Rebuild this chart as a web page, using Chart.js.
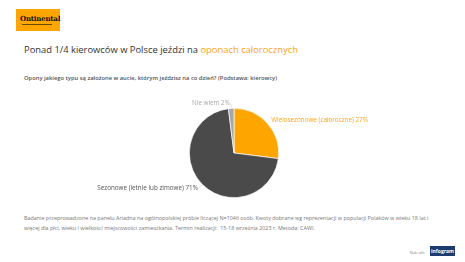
<!DOCTYPE html>
<html>
<head>
<meta charset="utf-8">
<script src="https://cdn.jsdelivr.net/npm/chart.js@4"></script>
<style>
  body { margin: 0; width: 465px; height: 262px; background: #fff; position: relative; overflow: hidden; font-family: "Open Sans", sans-serif; }
  .logo { position: absolute; left: 16px; top: 9px; width: 44px; height: 22px; background: #ffa500; }
  .logo span { position: absolute; left: 4px; top: 5px; font: bold 7px "DejaVu Serif", serif; color: #111; letter-spacing: -0.2px; }
  .logo i { position: absolute; left: 6px; top: 15px; width: 30px; height: 1px; background: #6a4a00; }
  .title { position: absolute; left: 24px; top: 43px; font-size: 9.4px; color: #333; white-space: nowrap; }
  .title b { font-weight: normal; color: #ffa31a; }
  .sub { position: absolute; left: 24px; top: 74px; font-size: 5.8px; font-weight: 600; color: #555; white-space: nowrap; }
  .foot { position: absolute; left: 24px; top: 214px; font-size: 5.4px; line-height: 9.5px; color: #777; white-space: nowrap; }
  .made { position: absolute; left: 410px; top: 251px; font-size: 3px; color: #888; }
  .ig { position: absolute; left: 430px; top: 246px; width: 25px; height: 10px; background: #1c3b6e; color: #fff; font: bold 5px "Open Sans", sans-serif; text-align: center; line-height: 10px; }
  #wrap { position: absolute; left: 0; top: 85px; width: 465px; height: 125px; }
</style>
</head>
<body>
<div class="logo"><span>Ontinental</span><i></i></div>
<div class="title">Ponad 1/4 kierowców w Polsce jeździ na <b>oponach całorocznych</b></div>
<div class="sub">Opony jakiego typu są założone w aucie, którym jeździsz na co dzień? (Podstawa: kierowcy)</div>
<div class="foot">Badanie przeprowadzone na panelu Ariadna na ogólnopolskiej próbie liczącej N=1046 osób. Kwoty dobrane wg reprezentacji w populacji Polaków w wieku 18 lat i<br>więcej dla płci, wieku i wielkości miejscowości zamieszkania. Termin realizacji: &nbsp;15-18 września 2023 r. Metoda: CAWI.</div>
<div class="made">Made with</div>
<div class="ig">infogram</div>
<div id="wrap"><canvas id="pie"></canvas></div>
<script>
// Data
const categories = ['Wielosezonowe (całoroczne)', 'Sezonowe (letnie lub zimowe)', 'Nie wiem'];
const shares = [27, 71, 2];
const sliceColors = ['#ffa500', '#4a4a4a', '#a6a6a6'];
const labelColors = ['#ffa31a', '#555555', '#a8a8a8'];

// Outside labels placed from each arc's own geometry
const outsideLabels = {
    id: 'outsideLabels',
    afterDatasetsDraw(chart) {
        const ctx = chart.ctx;
        const arcs = chart.getDatasetMeta(0).data;
        ctx.save();
        ctx.font = '6.3px "Open Sans", sans-serif';
        ctx.textBaseline = 'middle';
        arcs.forEach((arc, i) => {
            const mid = (arc.startAngle + arc.endAngle) / 2;
            const r = arc.outerRadius;
            const cx = arc.x, cy = arc.y;
            const right = Math.cos(mid) >= 0;
            const px = cx + Math.cos(mid) * (r + 5);
            const py = cy + Math.sin(mid) * (r + 5);
            if (!right) {
                ctx.strokeStyle = '#cfcfcf';
                ctx.lineWidth = 0.6;
                ctx.beginPath();
                ctx.moveTo(cx + Math.cos(mid) * r, cy + Math.sin(mid) * r);
                ctx.lineTo(px, py);
                ctx.stroke();
            }
            ctx.fillStyle = labelColors[i];
            ctx.textAlign = right ? 'left' : 'right';
            ctx.fillText(`${categories[i]} ${shares[i]}%`, px + (right ? 0 : -1), py);
        });
        ctx.restore();
    }
};

new Chart(document.getElementById('pie'), {
    type: 'pie',
    data: {
        labels: categories,
        datasets: [{
            data: shares,
            backgroundColor: sliceColors,
            borderColor: '#ffffff',
            borderWidth: 0.7
        }]
    },
    options: {
        responsive: true,
        maintainAspectRatio: false,
        animation: false,
        layout: { padding: { top: 23, bottom: 12, left: 3, right: 0 } },
        plugins: { legend: { display: false }, tooltip: { enabled: false } }
    },
    plugins: [outsideLabels]
});
</script>
</body>
</html>
